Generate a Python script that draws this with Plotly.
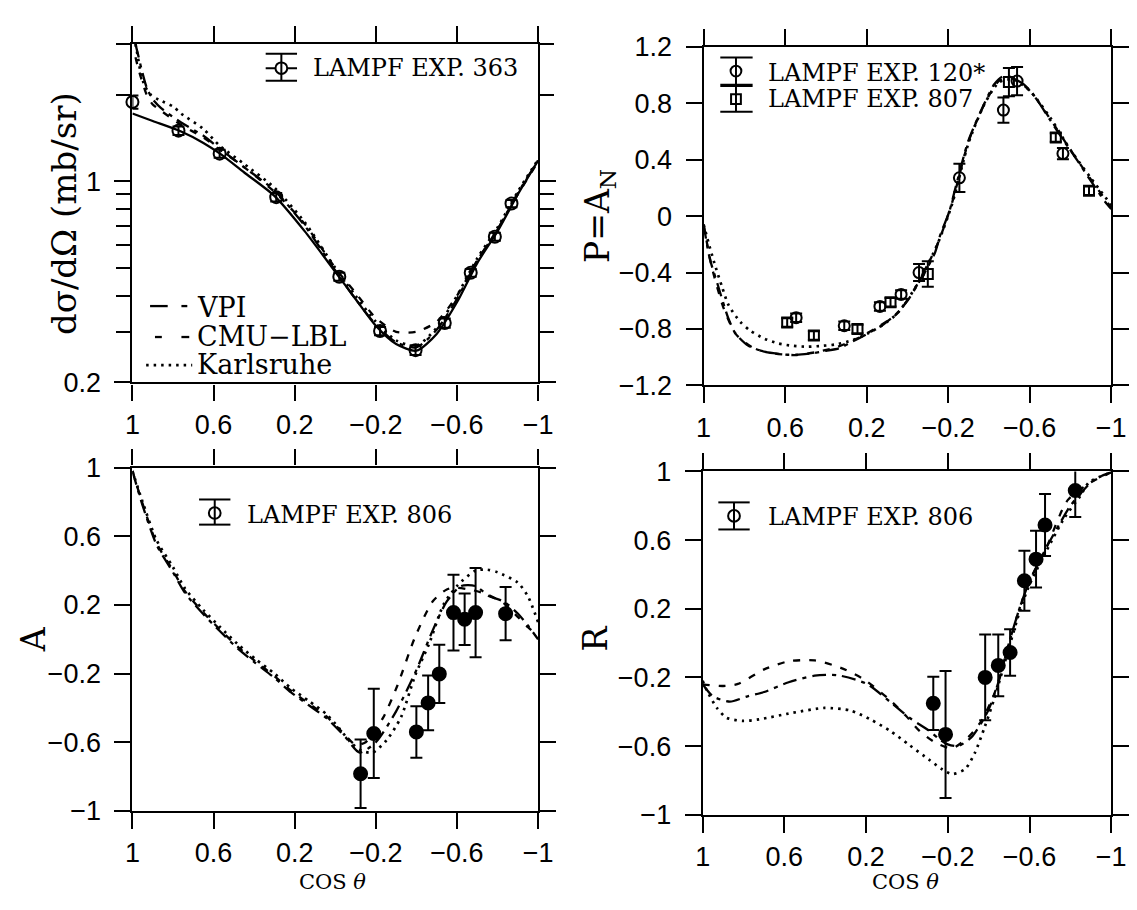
import numpy as np
import plotly.graph_objects as go

W, H = 1137, 910

# ---------------- data ----------------
X_TICKS = [1, 0.6, 0.2, -0.2, -0.6, -1]
X_TICKTEXT = ["1", "0.6", "0.2", "\u22120.2", "\u22120.6", "\u22121"]

# Panel 1: d sigma / d Omega (log)
P1_DATA_X = [1.0, 0.773, 0.57, 0.291, -0.02, -0.221, -0.396, -0.54, -0.668, -0.787, -0.869]
P1_DATA_Y = [1.887, 1.50, 1.248, 0.881, 0.466, 0.302, 0.259, 0.322, 0.481, 0.642, 0.837]
P1_DATA_E = [0.10, 0.05, 0.04, 0.03, 0.015, 0.01, 0.01, 0.012, 0.015, 0.02, 0.025]
P1_FIT_X = [1.0, 0.9, 0.76, 0.65, 0.57, 0.45, 0.3, 0.15, 0.0, -0.1, -0.2, -0.3, -0.4, -0.5, -0.6, -0.7, -0.8, -0.9, -1.0]
P1_FIT_Y = [1.72, 1.62, 1.49, 1.36, 1.25, 1.075, 0.89, 0.67, 0.485, 0.39, 0.315, 0.272, 0.258, 0.295, 0.38, 0.52, 0.67, 0.90, 1.18]
P1_KA_X = [0.985, 0.975, 0.96, 0.94, 0.91, 0.87, 0.8, 0.76, 0.65, 0.57, 0.45, 0.3, 0.15, 0.0, -0.1, -0.2, -0.3, -0.4, -0.5, -0.6, -0.7, -0.8, -0.9, -1.0]
P1_KA_Y = [3.0, 2.75, 2.40, 2.15, 2.0, 1.92, 1.82, 1.72, 1.52, 1.33, 1.15, 0.95, 0.72, 0.50, 0.40, 0.325, 0.28, 0.268, 0.31, 0.40, 0.54, 0.69, 0.92, 1.19]
P1_VPI_X = [0.985, 0.972, 0.955, 0.93, 0.9, 0.86, 0.76, 0.65, 0.57, 0.45, 0.3, 0.15, 0.0, -0.1, -0.2, -0.3, -0.4, -0.5, -0.6, -0.7, -0.8, -0.9, -1.0]
P1_VPI_Y = [3.0, 2.75, 2.45, 2.12, 1.93, 1.80, 1.60, 1.44, 1.30, 1.12, 0.93, 0.70, 0.49, 0.39, 0.318, 0.276, 0.265, 0.305, 0.39, 0.53, 0.68, 0.91, 1.18]
P1_CMU_X = [0.985, 0.97, 0.95, 0.93, 0.9, 0.86, 0.76, 0.65, 0.57, 0.45, 0.3, 0.15, 0.0, -0.1, -0.2, -0.3, -0.4, -0.5, -0.6, -0.7, -0.8, -0.9, -1.0]
P1_CMU_Y = [2.7, 2.45, 2.2, 2.0, 1.85, 1.76, 1.57, 1.42, 1.29, 1.12, 0.92, 0.71, 0.50, 0.41, 0.335, 0.30, 0.30, 0.325, 0.40, 0.53, 0.68, 0.90, 1.17]
P1_YTICKS = [0.2, 1]
P1_YTICKTEXT = ["0.2", "1"]
P1_YMINOR = [0.3, 0.4, 0.5, 0.6, 0.7, 0.8, 0.9, 2, 3]

# Panel 2: P = A_N
P2_C_X = [0.546, 0.31, 0.135, 0.031, -0.057, -0.255, -0.471, -0.538, -0.763]
P2_C_Y = [-0.72, -0.777, -0.64, -0.555, -0.40, 0.272, 0.752, 0.958, 0.444]
P2_C_E = [0.03, 0.03, 0.03, 0.03, 0.06, 0.10, 0.09, 0.10, 0.04]
P2_S_X = [0.59, 0.459, 0.245, 0.083, -0.10, -0.498, -0.728, -0.891]
P2_S_Y = [-0.754, -0.846, -0.80, -0.61, -0.41, 0.951, 0.558, 0.180]
P2_S_E = [0.03, 0.03, 0.03, 0.03, 0.09, 0.10, 0.03, 0.03]
P2_VPI_X = [1.0, 0.97, 0.93, 0.88, 0.843, 0.78, 0.703, 0.64, 0.581, 0.52, 0.459, 0.4, 0.336, 0.27, 0.197, 0.12, 0.057, 0.0, -0.048, -0.1, -0.135, -0.162, -0.205, -0.234, -0.298, -0.378, -0.426, -0.466, -0.5, -0.571, -0.624, -0.699, -0.76, -0.811, -0.9, -0.971, -1.0]
P2_VPI_Y = [-0.06, -0.30, -0.49, -0.72, -0.834, -0.92, -0.96, -0.975, -0.983, -0.98, -0.97, -0.955, -0.937, -0.89, -0.834, -0.77, -0.697, -0.60, -0.49, -0.36, -0.26, -0.13, 0.03, 0.19, 0.53, 0.80, 0.935, 0.99, 0.99, 0.935, 0.85, 0.684, 0.55, 0.444, 0.25, 0.10, 0.05]
P2_CMU_X = [1.0, 0.96, 0.9, 0.84, 0.75, 0.65, 0.55, 0.45, 0.35, 0.25, 0.15, 0.05, -0.05, -0.15, -0.22, -0.3, -0.38, -0.45, -0.52, -0.6, -0.7, -0.8, -0.9, -1.0]
P2_CMU_Y = [-0.06, -0.36, -0.66, -0.84, -0.94, -0.975, -0.985, -0.965, -0.93, -0.87, -0.79, -0.69, -0.48, -0.19, 0.10, 0.53, 0.80, 0.96, 0.975, 0.89, 0.69, 0.47, 0.26, 0.06]
P2_KA_X = [1.0, 0.97, 0.948, 0.91, 0.878, 0.82, 0.773, 0.7, 0.633, 0.56, 0.493, 0.42, 0.354, 0.27, 0.197, 0.12, 0.05, -0.05, -0.15, -0.22, -0.3, -0.38, -0.45, -0.52, -0.6, -0.7, -0.8, -0.9, -1.0]
P2_KA_Y = [-0.06, -0.22, -0.33, -0.50, -0.63, -0.75, -0.81, -0.87, -0.903, -0.92, -0.926, -0.92, -0.91, -0.88, -0.834, -0.77, -0.69, -0.48, -0.19, 0.09, 0.52, 0.80, 0.95, 0.97, 0.89, 0.70, 0.47, 0.27, 0.08]
P2_YTICKS = [-1.2, -0.8, -0.4, 0, 0.4, 0.8, 1.2]
P2_YTICKTEXT = ["\u22121.2", "\u22120.8", "\u22120.4", "0", "0.4", "0.8", "1.2"]

# Panel 3: A
P3_DATA_X = [-0.125, -0.19, -0.40, -0.458, -0.513, -0.583, -0.638, -0.692, -0.84]
P3_DATA_Y = [-0.784, -0.549, -0.54, -0.371, -0.202, 0.155, 0.117, 0.155, 0.149]
P3_DATA_E = [0.20, 0.26, 0.15, 0.16, 0.17, 0.22, 0.15, 0.26, 0.155]
P3_KA_X = [1.0, 0.95, 0.881, 0.8, 0.741, 0.65, 0.567, 0.48, 0.392, 0.3, 0.218, 0.13, 0.043, -0.02, -0.08, -0.13, -0.184, -0.254, -0.324, -0.394, -0.464, -0.534, -0.604, -0.691, -0.75, -0.8, -0.9, -0.95, -1.0]
P3_KA_Y = [0.98, 0.80, 0.577, 0.42, 0.296, 0.17, 0.07, -0.03, -0.117, -0.20, -0.286, -0.36, -0.437, -0.52, -0.606, -0.65, -0.66, -0.587, -0.455, -0.211, -0.023, 0.202, 0.315, 0.399, 0.405, 0.39, 0.33, 0.25, 0.10]
P3_CMU_X = [1.0, 0.95, 0.881, 0.8, 0.741, 0.65, 0.567, 0.48, 0.392, 0.3, 0.218, 0.13, 0.043, -0.05, -0.1, -0.15, -0.237, -0.307, -0.394, -0.481, -0.55, -0.6, -0.68, -0.75, -0.83, -0.9, -0.95, -1.0]
P3_CMU_Y = [0.98, 0.79, 0.56, 0.40, 0.28, 0.155, 0.055, -0.045, -0.13, -0.215, -0.30, -0.375, -0.45, -0.56, -0.615, -0.60, -0.455, -0.268, 0.014, 0.221, 0.29, 0.30, 0.285, 0.26, 0.21, 0.13, 0.07, 0.02]
P3_VPI_X = [1.0, 0.95, 0.881, 0.8, 0.741, 0.65, 0.567, 0.48, 0.392, 0.3, 0.218, 0.13, 0.043, -0.05, -0.12, -0.2, -0.3, -0.4, -0.48, -0.55, -0.62, -0.69, -0.76, -0.83, -0.9, -0.95, -1.0]
P3_VPI_Y = [0.98, 0.78, 0.55, 0.39, 0.27, 0.145, 0.045, -0.055, -0.14, -0.225, -0.31, -0.385, -0.46, -0.57, -0.66, -0.60, -0.42, -0.18, 0.05, 0.22, 0.31, 0.31, 0.25, 0.22, 0.15, 0.08, 0.0]

# Panel 4: R
P4_DATA_X = [-0.129, -0.189, -0.383, -0.447, -0.505, -0.575, -0.632, -0.676, -0.824]
P4_DATA_Y = [-0.351, -0.532, -0.20, -0.130, -0.055, 0.363, 0.489, 0.688, 0.889]
P4_DATA_E = [0.155, 0.37, 0.25, 0.18, 0.136, 0.175, 0.165, 0.18, 0.155]
P4_VPI_X = [1.0, 0.95, 0.867, 0.78, 0.699, 0.579, 0.452, 0.34, 0.196, 0.084, -0.012, -0.108, -0.156, -0.2, -0.25, -0.316, -0.396, -0.45, -0.508, -0.556, -0.6, -0.684, -0.75, -0.8, -0.9, -0.955, -1.0]
P4_VPI_Y = [-0.24, -0.31, -0.341, -0.31, -0.285, -0.228, -0.19, -0.187, -0.238, -0.341, -0.435, -0.51, -0.557, -0.59, -0.60, -0.548, -0.397, -0.22, 0.035, 0.22, 0.36, 0.56, 0.70, 0.80, 0.935, 0.975, 0.995]
P4_CMU_X = [1.0, 0.9, 0.827, 0.699, 0.579, 0.452, 0.324, 0.212, 0.084, 0.004, -0.06, -0.14, -0.22, -0.3, -0.364, -0.428, -0.508, -0.556, -0.6, -0.684, -0.787, -0.9, -1.0]
P4_CMU_Y = [-0.24, -0.25, -0.238, -0.153, -0.106, -0.101, -0.144, -0.21, -0.331, -0.425, -0.51, -0.58, -0.613, -0.548, -0.454, -0.294, 0.035, 0.22, 0.36, 0.56, 0.833, 0.936, 0.995]
P4_KA_X = [1.0, 0.98, 0.93, 0.883, 0.803, 0.723, 0.563, 0.404, 0.276, 0.18, 0.084, -0.012, -0.108, -0.172, -0.22, -0.284, -0.332, -0.38, -0.428, -0.492, -0.556, -0.6, -0.684, -0.771, -0.85, -0.891, -0.955, -1.0]
P4_KA_Y = [-0.22, -0.275, -0.378, -0.435, -0.453, -0.444, -0.407, -0.378, -0.393, -0.444, -0.51, -0.594, -0.679, -0.735, -0.763, -0.735, -0.641, -0.491, -0.322, -0.059, 0.20, 0.34, 0.54, 0.73, 0.86, 0.936, 0.974, 0.995]

PM1_TICKS = [-1, -0.6, -0.2, 0.2, 0.6, 1]
PM1_TICKTEXT = ["\u22121", "\u22120.6", "\u22120.2", "0.2", "0.6", "1"]

# ---------------- styles ----------------
SANS = "Liberation Sans"
SERIF = "DejaVu Serif"
VPI_DASH = "14px,6px,4px,6px"
CMU_DASH = "7px,9px"
KA_DASH = "2.5px,5px"


def px(x):
    return x / W


def py(y):
    return 1 - y / H


# panel boxes in pixels: (left, right, top, bottom)
BOX = {
    1: (127, 541, 30, 380),
    2: (710, 1126, 33, 383),
    3: (127, 541, 468, 823),
    4: (709, 1126, 472, 827),
}

fig = go.Figure()


def axref(i):
    return ("x" if i == 1 else f"x{i}"), ("y" if i == 1 else f"y{i}")


def curve(i, xs, ys, dash, width=2.3):
    xr, yr = axref(i)
    fig.add_trace(go.Scatter(x=xs, y=ys, mode="lines", xaxis=xr, yaxis=yr,
                             line=dict(color="black", width=width, dash=dash, shape="spline", smoothing=0.7),
                             showlegend=False, hoverinfo="skip"))


def points(i, xs, ys, es, symbol, size):
    xr, yr = axref(i)
    fig.add_trace(go.Scatter(x=xs, y=ys, mode="markers", xaxis=xr, yaxis=yr, cliponaxis=False,
                             marker=dict(symbol=symbol, size=size, color="black",
                                         line=dict(color="black", width=2)),
                             error_y=dict(type="data", array=es, visible=True, color="black",
                                          thickness=2, width=6),
                             showlegend=False, hoverinfo="skip"))


# Panel 1
curve(1, P1_FIT_X, P1_FIT_Y, "solid", 2.3)
curve(1, P1_VPI_X, P1_VPI_Y, VPI_DASH)
curve(1, P1_CMU_X, P1_CMU_Y, CMU_DASH)
curve(1, P1_KA_X, P1_KA_Y, KA_DASH, 2.7)
points(1, P1_DATA_X, P1_DATA_Y, P1_DATA_E, "circle-open", 12)

# Panel 2
curve(2, P2_VPI_X, P2_VPI_Y, VPI_DASH)
curve(2, P2_CMU_X, P2_CMU_Y, CMU_DASH)
curve(2, P2_KA_X, P2_KA_Y, KA_DASH, 2.7)
points(2, P2_C_X, P2_C_Y, P2_C_E, "circle-open", 11)
points(2, P2_S_X, P2_S_Y, P2_S_E, "square-open", 10)

# Panel 3
curve(3, P3_VPI_X, P3_VPI_Y, VPI_DASH)
curve(3, P3_CMU_X, P3_CMU_Y, CMU_DASH)
curve(3, P3_KA_X, P3_KA_Y, KA_DASH, 2.7)
points(3, P3_DATA_X, P3_DATA_Y, P3_DATA_E, "circle", 13)

# Panel 4
curve(4, P4_VPI_X, P4_VPI_Y, VPI_DASH)
curve(4, P4_CMU_X, P4_CMU_Y, CMU_DASH)
curve(4, P4_KA_X, P4_KA_Y, KA_DASH, 2.7)
points(4, P4_DATA_X, P4_DATA_Y, P4_DATA_E, "circle", 13)

TICKFONT = dict(family=SANS, size=27, color="black")


def xcfg(i):
    l, r, t, b = BOX[i]
    _, yr = axref(i)
    return dict(domain=[px(l), px(r)], anchor=yr, range=[1, -1], autorange=False,
                tickmode="array", tickvals=X_TICKS, ticktext=X_TICKTEXT,
                ticks="outside", ticklen=16, tickwidth=2, tickcolor="black",
                showline=True, linewidth=2.2, linecolor="black", mirror="ticks",
                showgrid=False, zeroline=False, tickfont=TICKFONT, ticklabelstandoff=1)


def ycfg(i, tickvals, ticktext, rng, log=False, minor_vals=None):
    l, r, t, b = BOX[i]
    xr, _ = axref(i)
    d = dict(domain=[py(b), py(t)], anchor=xr, range=rng, autorange=False,
             tickmode="array", tickvals=tickvals, ticktext=ticktext,
             ticks="outside", ticklen=16, tickwidth=2, tickcolor="black",
             showline=True, linewidth=2.2, linecolor="black", mirror="ticks",
             showgrid=False, zeroline=False, tickfont=TICKFONT, ticklabelstandoff=8)
    if log:
        d["type"] = "log"
    if minor_vals is not None:
        d["minor"] = dict(tickmode="array", tickvals=minor_vals, ticks="outside",
                          ticklen=14, tickwidth=2, tickcolor="black", showgrid=False)
    return d


layout = dict(
    width=W, height=H, margin=dict(l=0, r=0, t=0, b=0),
    paper_bgcolor="white", plot_bgcolor="white", showlegend=False,
    xaxis=xcfg(1), xaxis2=xcfg(2), xaxis3=xcfg(3), xaxis4=xcfg(4),
    yaxis=ycfg(1, P1_YTICKS, P1_YTICKTEXT, [np.log10(0.2), np.log10(3)], log=True, minor_vals=P1_YMINOR),
    yaxis2=ycfg(2, P2_YTICKS, P2_YTICKTEXT, [-1.2, 1.2]),
    yaxis3=ycfg(3, PM1_TICKS, PM1_TICKTEXT, [-1, 1]),
    yaxis4=ycfg(4, PM1_TICKS, PM1_TICKTEXT, [-1, 1]),
)
fig.update_layout(**layout)

# ---------------- annotations ----------------
ann = []


def text(x, y, s, size, angle=0, xanchor="center", family=SERIF):
    ann.append(dict(x=px(x), y=py(y), xref="paper", yref="paper", text=s, showarrow=False,
                    xanchor=xanchor, yanchor="middle", textangle=angle,
                    font=dict(family=family, size=size, color="black")))


text(57, 205, "d\u03c3/d\u03a9 (mb/sr)", 34, angle=-90)
text(603, 208, "P=A<sub>N</sub>", 33, angle=-90)
text(26, 645, "A", 33, angle=-90)
text(600, 645, "R", 33, angle=-90)
text(331, 897, "COS <i>\u03b8</i>", 21)
text(916, 897, "COS <i>\u03b8</i>", 21)

text(309, 55, "LAMPF EXP. 363", 24, xanchor="left")
text(774, 60, "LAMPF EXP. 120*", 24, xanchor="left")
text(774, 87, "LAMPF EXP. 807", 24, xanchor="left")
text(242, 517, "LAMPF EXP. 806", 24, xanchor="left")
text(774, 519, "LAMPF EXP. 806", 24, xanchor="left")

text(191, 302, "VPI", 27, xanchor="left")
text(191, 332, "CMU\u2212LBL", 27, xanchor="left")
text(191, 361, "Karlsruhe", 27, xanchor="left")

fig.update_layout(annotations=ann)

# ---------------- legend glyphs (shapes) ----------------
shapes = []


def seg(x0, y0, x1, y1, w=2, dash="solid"):
    shapes.append(dict(type="line", xref="paper", yref="paper",
                       x0=px(x0), y0=py(y0), x1=px(x1), y1=py(y1),
                       line=dict(color="black", width=w, dash=dash)))


def circ(cx, cy, r):
    shapes.append(dict(type="circle", xref="paper", yref="paper",
                       x0=px(cx - r), x1=px(cx + r), y0=py(cy + r), y1=py(cy - r),
                       fillcolor="white", line=dict(color="black", width=2)))


def sq(cx, cy, r):
    shapes.append(dict(type="rect", xref="paper", yref="paper",
                       x0=px(cx - r), x1=px(cx + r), y0=py(cy + r), y1=py(cy - r),
                       fillcolor="white", line=dict(color="black", width=2)))


def errglyph(cx, ytop, ybot, hw, cy, cross=False):
    seg(cx, ytop, cx, ybot)
    seg(cx - hw, ytop, cx + hw, ytop)
    seg(cx - hw, ybot, cx + hw, ybot)
    if cross:
        seg(cx - hw, cy, cx + hw, cy)
    circ(cx, cy, 6)
    seg(cx, cy - 6, cx, cy + 6)


# panel 1 experiment glyph
errglyph(279, 40, 68, 16, 55, cross=True)
# panel 2 glyph: circle, thick bar, square
seg(743, 44, 743, 100)
seg(727, 44, 760, 44)
seg(727, 100, 760, 100)
circ(743, 58, 5.5)
seg(743, 52, 743, 64)
shapes.append(dict(type="rect", xref="paper", yref="paper", x0=px(727), x1=px(760),
                   y0=py(74.5), y1=py(71), fillcolor="black", line=dict(width=0)))
sq(743, 87, 5)
seg(743, 82, 743, 92)
# panel 3 and 4 glyphs
errglyph(211, 501, 527, 16, 515)
errglyph(741, 504, 532, 16, 518)

# curve legend samples (panel 1)
seg(145, 301, 163, 301, 2.3)
seg(177, 301, 183, 301, 2.3)
seg(150, 333, 157, 333, 2.3)
seg(177, 333, 185, 333, 2.3)
seg(141, 362, 188, 362, 2.7, dash="2.5px,5px")

fig.update_layout(shapes=shapes)

fig.write_html("out.html")
